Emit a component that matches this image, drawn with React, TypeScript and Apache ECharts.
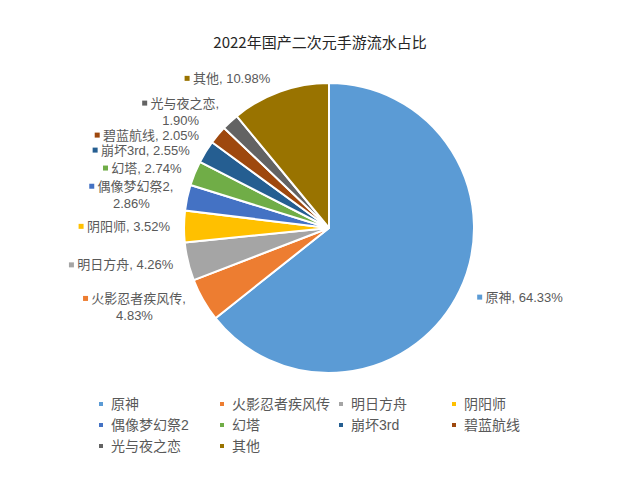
import React, { useEffect, useRef } from "react";
import * as echarts from "echarts";

const titleText = "2022年国产二次元手游流水占比";
const names = ["原神", "火影忍者疾风传", "明日方舟", "阴阳师", "偶像梦幻祭2", "幻塔", "崩坏3rd", "碧蓝航线", "光与夜之恋", "其他"];
const values = [64.33, 4.83, 4.26, 3.52, 2.86, 2.74, 2.55, 2.05, 1.9, 10.98];
const colors = ["#5B9BD5", "#ED7D31", "#A5A5A5", "#FFC000", "#4472C4", "#70AD47", "#255E91", "#9E480E", "#636363", "#997300"];
const wrapNames = ["火影忍者疾风传", "偶像梦幻祭2", "光与夜之恋"];
const legendColumns = [
  ["原神", "偶像梦幻祭2", "光与夜之恋"],
  ["火影忍者疾风传", "幻塔", "其他"],
  ["明日方舟", "崩坏3rd"],
  ["阴阳师", "碧蓝航线"],
];

const FONT = "'Liberation Sans', 'Noto Sans CJK SC', sans-serif";
const TITLE_FONT = "'Noto Sans CJK SC', 'Noto Sans', sans-serif";

export default function App() {
  const ref = useRef<HTMLDivElement>(null);
  useEffect(() => {
    if (!ref.current) return;
    const chart = echarts.init(ref.current, null, { renderer: "svg" });
    const legendLefts = [92, 213, 332, 445];
    const data = names.map((n, i) => ({
      name: n,
      value: values[i],
      itemStyle: { color: colors[i] },
      label: {
        rich: {
          m: { backgroundColor: colors[i], width: 5, height: 5 },
          t: { color: "#595959", fontSize: 13, fontFamily: FONT, lineHeight: 17, align: "center" },
        },
      },
    }));
    chart.setOption({
      animation: false,
      backgroundColor: "#ffffff",
      title: {
        text: titleText,
        left: "center",
        top: 29,
        textStyle: { fontSize: 15, fontWeight: "normal", color: "#262626", fontFamily: TITLE_FONT },
      },
      legend: legendColumns.map((col, ci) => ({
        data: col,
        orient: "vertical",
        left: legendLefts[ci],
        top: 392,
        icon: "rect",
        itemWidth: 6,
        itemHeight: 6,
        itemGap: 7,
        selectedMode: false,
        textStyle: { fontSize: 14, color: "#595959", fontFamily: FONT, padding: [0, 0, 0, 2] },
      })),
      series: [
        {
          type: "pie",
          center: [329, 228],
          radius: 145,
          startAngle: 90,
          clockwise: true,
          itemStyle: { borderColor: "#ffffff", borderWidth: 2 },
          label: {
            show: true,
            position: "outside",
            formatter: (p: any) => {
              const txt = wrapNames.includes(p.name)
                ? `${p.name},\n${p.value.toFixed(2)}%`
                : `${p.name}, ${p.value.toFixed(2)}%`;
              return `{m|} {t|${txt.replace("\n", "}\n{t|")}}`;
            },
          },
          labelLine: { show: false, length: 14, length2: 0 },
          data,
        },
      ],
    });
    return () => chart.dispose();
  }, []);
  return (
    <div
      ref={ref}
      style={{ position: "fixed", left: 0, top: 0, width: 640, height: 480, background: "#fff" }}
    />
  );
}
